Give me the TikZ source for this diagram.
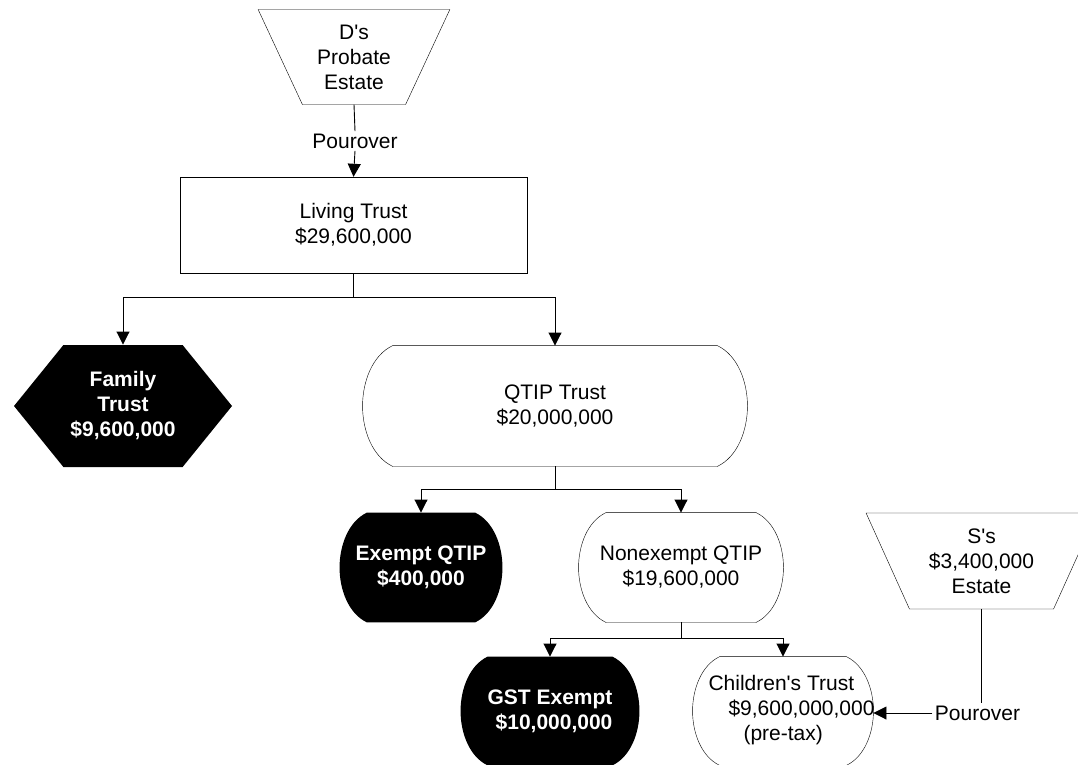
\documentclass[tikz,border=0pt]{standalone}
\usepackage{fontspec}
\setmainfont{Liberation Sans}
\usetikzlibrary{shapes.geometric,shapes.symbols,arrows.meta,calc,backgrounds}
\newcommand{\chartfont}{\fontsize{21}{25}\selectfont}
\newcommand{\apos}{\textquotesingle}
% outline with bulged ends round a named node
\newcommand{\terminalpath}[2]{%
  \path [#2] let \p1 = (#1.north west), \p2 = (#1.south east), \n1 = {\y1-\y2}, \n2 = {0.25*\n1},
    \n3 = {0.2*\n1}, \n4 = {0.08*\n1}, \n5 = {0.5*(\y1+\y2)}, \n6 = {0.08*\n1} in
    (\x1+\n2,\y1) -- (\x2-\n2,\y1) .. controls (\x2-\n4,\y1-\n6) and (\x2,\n5+\n3) .. (\x2,\n5)
    .. controls (\x2,\n5-\n3) and (\x2-\n4,\y2+\n6) .. (\x2-\n2,\y2) -- (\x1+\n2,\y2)
    .. controls (\x1+\n4,\y2+\n6) and (\x1,\n5-\n3) .. (\x1,\n5)
    .. controls (\x1,\n5+\n3) and (\x1+\n4,\y1-\n6) .. (\x1+\n2,\y1) -- cycle;}
\tikzset{
    estate-box/.style = {draw, thin, trapezium, shape border rotate=180, trapezium stretches=true, trapezium angle=64, align=center, inner sep=0pt, font=\chartfont},
    plain-box/.style = {draw, thin, rectangle, align=center, font=\chartfont},
    trust-white/.style = {rectangle, align=center, inner sep=0pt, font=\chartfont},
    trust-black/.style = {trust-white, text=white, font=\chartfont\bfseries},
    family-box/.style = {signal, signal to=east and west, signal pointer angle=102, fill=black, text=white, align=center, inner sep=0pt, font=\chartfont\bfseries},
    flow-label/.style = {inner sep=2pt, font=\chartfont},
    flow/.style = {-{Triangle[width=13pt,length=13pt]}},
}

\begin{document}
\begin{tikzpicture}[x=1pt, y=-1pt, line width=0.9pt]
\useasboundingbox (0,0) rectangle (1078,765);
\node [estate-box, minimum width=192pt, minimum height=95pt] (d-estate) at (354,57) {D\apos s\\Probate\\Estate};
\node [flow-label] (d-pourover) at (355,141) {Pourover};
\node [plain-box, minimum width=347pt, minimum height=96pt] (living) at (353.5,225) {Living Trust\\\$29,600,000};
\node [family-box, minimum width=218pt, minimum height=122pt] (family) at (123,406) {Family\\Trust\\\$9,600,000};
\node [trust-white, minimum width=384pt, minimum height=120pt] (qtip) at (555,406) {QTIP Trust\\\$20,000,000};
\node [trust-black, minimum width=162pt, minimum height=109pt] (exempt) at (421,567.5) {Exempt QTIP\\\$400,000};
\node [trust-white, minimum width=204pt, minimum height=109pt] (nonexempt) at (681,567.5) {Nonexempt QTIP\\\$19,600,000};
\node [trust-black, minimum width=178pt, minimum height=108pt, align=right] (gst) at (550,711) {GST Exempt\\\$10,000,000};
\node [trust-white, minimum width=180pt, minimum height=108pt] (children) at (783,711) {};
\node [align=left, inner sep=0pt, font=\chartfont] (children-text) at (791.5,710) {Children\apos s Trust\\\hspace*{20pt}\$9,600,000,000\\\hspace*{35pt}(pre-tax)};
\node [estate-box, minimum width=231pt, minimum height=96pt] (s-estate) at (981.5,561) {S\apos s\\\$3,400,000\\Estate};
\node [flow-label] (s-pourover) at (977.5,713) {Pourover};

\begin{scope}[on background layer, thin]
\terminalpath{qtip}{draw, fill=white}
\terminalpath{nonexempt}{draw, fill=white}
\terminalpath{children}{draw, fill=white}
\terminalpath{exempt}{fill=black}
\terminalpath{gst}{fill=black}
\end{scope}

\draw (d-estate.south) -- (d-pourover.north);
\draw [flow] (d-pourover.south) -- (living.north);
\draw (living.south) -- ++(0,24) coordinate (split-living);
\draw [flow] (split-living) -| (family.north);
\draw [flow] (split-living) -| (qtip.north);
\draw (qtip.south) -- ++(0,23) coordinate (split-qtip);
\draw [flow] (split-qtip) -| (exempt.north);
\draw [flow] (split-qtip) -| (nonexempt.north);
\draw (nonexempt.south) -- ++(0,16) coordinate (split-nonexempt);
\draw [flow] (split-nonexempt) -| (gst.north);
\draw [flow] (split-nonexempt) -| (children.north);
\draw (s-estate.south) -- (s-estate.south |- s-pourover.north);
\draw [flow] (s-pourover.west) -- (s-pourover.west -| children.east);
\end{tikzpicture}
\end{document}
